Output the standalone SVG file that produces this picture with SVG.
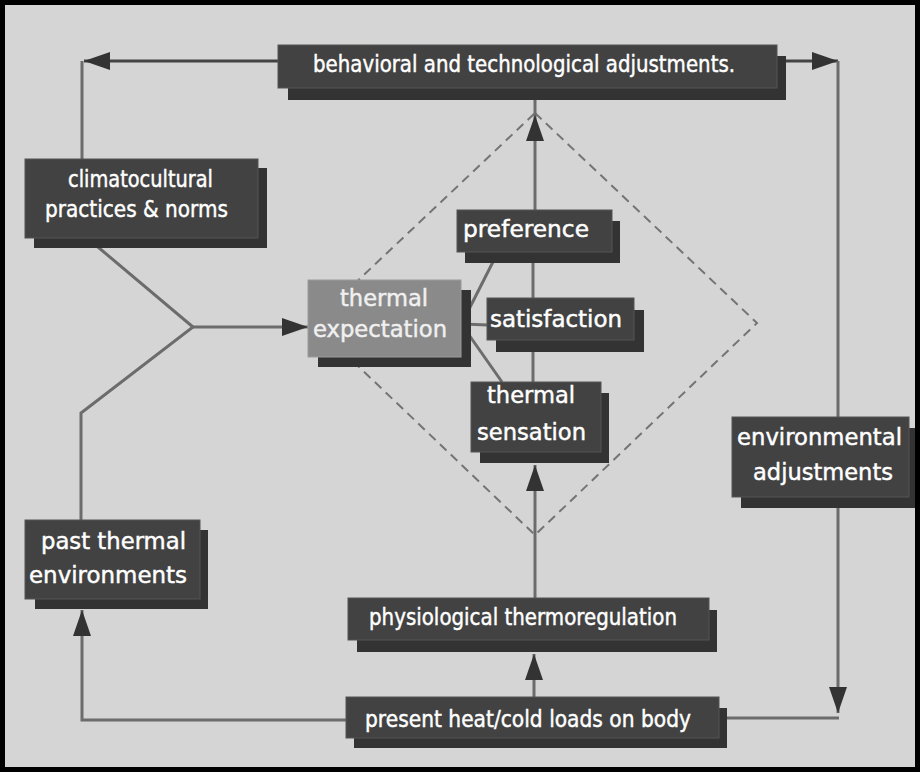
<svg xmlns="http://www.w3.org/2000/svg" width="920" height="772" viewBox="0 0 920 772">
<defs>
<style>
.sh{fill:#333333}
.fr{fill:#424242;stroke:#555555;stroke-width:1}
.fx{fill:#8a8a8a;stroke:#9c9c9c;stroke-width:1}
.t{font-family:"DejaVu Sans",Verdana,sans-serif;font-size:22.5px;fill:#ffffff;stroke:#ffffff;stroke-width:0.45}
.tx{fill:#f0f0f0;stroke:#f0f0f0}
.ln{fill:none;stroke:#6c6c6c;stroke-width:3}
.lk{fill:none;stroke:#444444;stroke-width:3}
.ds{fill:none;stroke:#747474;stroke-width:2;stroke-dasharray:9 6}
</style>
<marker id="ah" viewBox="0 0 26 18" refX="26" refY="9" markerWidth="26" markerHeight="18" markerUnits="userSpaceOnUse" orient="auto">
<path d="M0,0 L26,9 L0,18 Z" fill="#333333"/>
</marker>
</defs>
<rect x="0" y="0" width="920" height="772" fill="#d5d5d5"/>

<polygon id="diamond" class="ds" points="535,113 757,323 535,535 313,323"/>

<g id="connectors">
<path class="lk" d="M278,61 H84" marker-end="url(#ah)"/>
<path class="ln" d="M82,61 V160"/>
<path class="lk" d="M786,61 H838" marker-end="url(#ah)"/>
<path class="ln" d="M838,61 V713" marker-end="url(#ah)"/>
<path class="ln" d="M725,718 H839"/>
<path class="ln" d="M346,720 H82 V610" marker-end="url(#ah)"/>
<path class="ln" d="M534,697 V654" marker-end="url(#ah)"/>
<path class="ln" d="M535,598 V465" marker-end="url(#ah)"/>
<path class="ln" d="M533,382 V350"/>
<path class="ln" d="M533,298 V262"/>
<path class="ln" d="M535,210 V115" marker-end="url(#ah)"/>
<path class="ln" d="M535,115 V98"/>
<path class="ln" d="M462,323 L498,252"/>
<path class="ln" d="M462,324 L488,325"/>
<path class="ln" d="M462,325 L502,382"/>
<path class="ln" d="M92,242 L193,327 L81,413 V521"/>
<path class="ln" d="M193,327 H308" marker-end="url(#ah)"/>
</g>

<g id="behavioral">
<rect class="sh" x="288" y="56" width="498" height="44"/>
<rect class="fr" x="278" y="45" width="499" height="43"/>
<text class="t" x="313" y="72" textLength="422" lengthAdjust="spacingAndGlyphs">behavioral and technological adjustments.</text>
</g>

<g id="climatocultural">
<rect class="sh" x="34" y="168" width="233" height="80"/>
<rect class="fr" x="25" y="159" width="233" height="79"/>
<text class="t" x="68" y="187" textLength="145" lengthAdjust="spacingAndGlyphs">climatocultural</text>
<text class="t" x="45" y="217" textLength="183" lengthAdjust="spacingAndGlyphs">practices &amp; norms</text>
</g>

<g id="expectation">
<rect class="sh" x="318" y="290" width="153" height="77"/>
<rect class="fx" x="308" y="280" width="153" height="77"/>
<text class="t tx" x="340" y="306" textLength="88" lengthAdjust="spacingAndGlyphs">thermal</text>
<text class="t tx" x="313" y="337" textLength="134" lengthAdjust="spacingAndGlyphs">expectation</text>
</g>

<g id="preference">
<rect class="sh" x="465" y="221" width="155" height="42"/>
<rect class="fr" x="457" y="210" width="155" height="42"/>
<text class="t" x="463" y="237" textLength="126" lengthAdjust="spacingAndGlyphs">preference</text>
</g>

<g id="satisfaction">
<rect class="sh" x="496" y="310" width="148" height="42"/>
<rect class="fr" x="487" y="298" width="147" height="42"/>
<text class="t" x="490" y="327" textLength="132" lengthAdjust="spacingAndGlyphs">satisfaction</text>
</g>

<g id="sensation">
<rect class="sh" x="480" y="393" width="129" height="70"/>
<rect class="fr" x="471" y="382" width="130" height="70"/>
<text class="t" x="487" y="403" textLength="88" lengthAdjust="spacingAndGlyphs">thermal</text>
<text class="t" x="477" y="440" textLength="109" lengthAdjust="spacingAndGlyphs">sensation</text>
</g>

<g id="environmental">
<rect class="sh" x="741" y="428" width="176" height="80"/>
<rect class="fr" x="732" y="417" width="177" height="80"/>
<text class="t" x="737" y="445" textLength="165" lengthAdjust="spacingAndGlyphs">environmental</text>
<text class="t" x="753" y="480" textLength="140" lengthAdjust="spacingAndGlyphs">adjustments</text>
</g>

<g id="past">
<rect class="sh" x="35" y="530" width="173" height="79"/>
<rect class="fr" x="25" y="520" width="175" height="79"/>
<text class="t" x="41" y="549" textLength="145" lengthAdjust="spacingAndGlyphs">past thermal</text>
<text class="t" x="29" y="583" textLength="158" lengthAdjust="spacingAndGlyphs">environments</text>
</g>

<g id="physiological">
<rect class="sh" x="357" y="610" width="360" height="42"/>
<rect class="fr" x="348" y="598" width="361" height="42"/>
<text class="t" x="369" y="625" textLength="308" lengthAdjust="spacingAndGlyphs">physiological thermoregulation</text>
</g>

<g id="present">
<rect class="sh" x="354" y="708" width="373" height="40"/>
<rect class="fr" x="346" y="697" width="373" height="41"/>
<text class="t" x="365" y="727" textLength="326" lengthAdjust="spacingAndGlyphs">present heat/cold loads on body</text>
</g>

<rect x="2.5" y="2.5" width="915" height="767" fill="none" stroke="#000000" stroke-width="5"/>
</svg>
